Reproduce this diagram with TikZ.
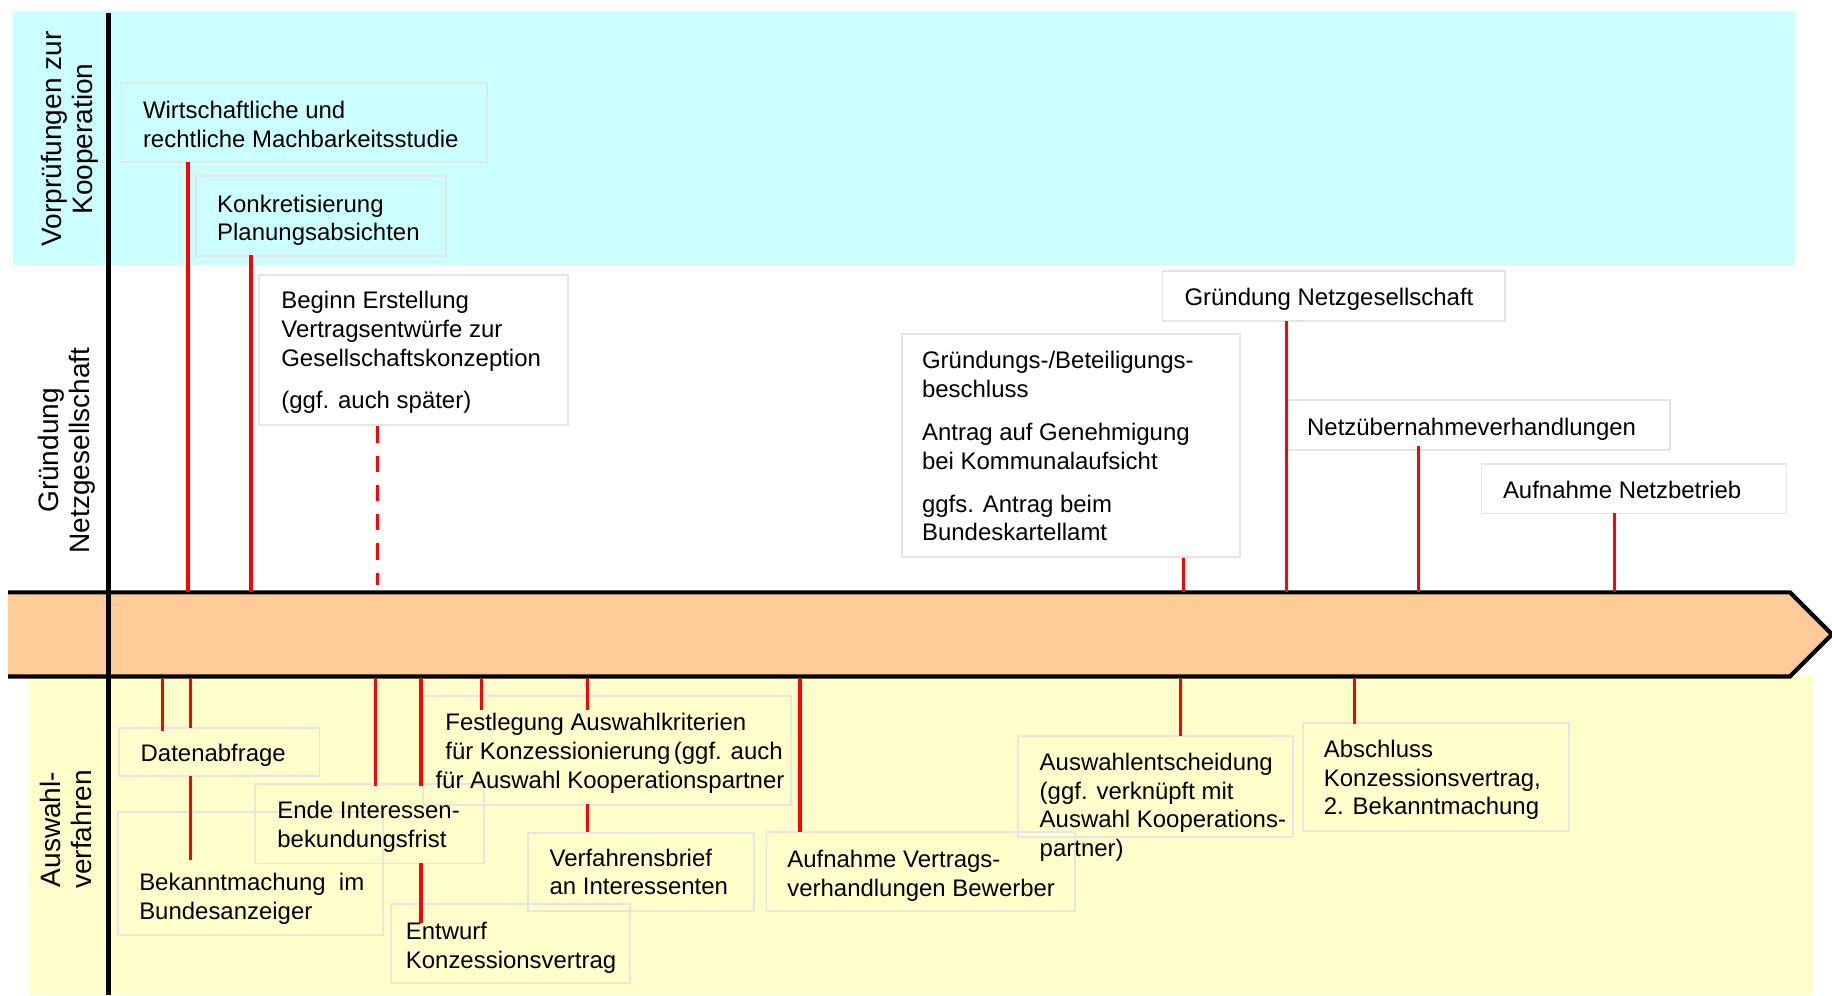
\documentclass[tikz,border=0pt]{standalone}
\usepackage{fontspec}
\setmainfont{Liberation Sans}
\usetikzlibrary{fit}
\definecolor{bandcyan}{HTML}{CCFFFF}
\definecolor{bandyellow}{HTML}{FFFFCC}
\definecolor{timeorange}{HTML}{FFCC99}
\definecolor{boxgray}{HTML}{E6E6E0}
\definecolor{linered}{HTML}{FF0000}
\tikzset{
  bbox/.style={draw=boxgray, line width=0.8pt, inner sep=0pt, fill=none},
  txt/.style={inner sep=0pt, anchor=north west, align=left, font=\fontsize{10.25}{12.25}\selectfont},
  lab/.style={inner sep=0pt, rotate=90, align=center, font=\fontsize{12}{13.5}\selectfont},
  rline/.style={draw=linered, line width=1.5pt},
  rdash/.style={draw=linered, line width=1.5pt, dash pattern=on 7pt off 5.5pt},
}
\begin{document}
\begin{tikzpicture}[x=0.5pt, y=-0.5pt]
\useasboundingbox (0,0) rectangle (1568,852);
% background bands
\fill[bandcyan] (11,9) rectangle (1536,227);
\fill[bandyellow] (25,579) rectangle (1552,852);
% timeline arrow
\fill[timeorange] (7,507) -- (1532,507) -- (1568,543) -- (1532,579) -- (7,579) -- cycle;
\draw[line width=1.8pt, line join=miter] (7,507) -- (1532,507) -- (1568,543) -- (1532,579) -- (7,579);
% vertical axis
\coordinate (axtop) at (93,11);
\coordinate (axbot) at (93,852);
\draw[line width=2.2pt] (axtop) -- (axbot);

% band labels
\node[lab] (l1) at (60.5,119) {\strut Vorprüfungen zur\\\strut Kooperation};
\node[lab] (l2) at (58,385.5) {\strut Gründung\\\strut Netzgesellschaft};
\node[lab] (l3) at (59.5,710) {\strut Auswahl-\\\strut verfahren};

% boxes above timeline
\node[bbox, fit={(104,71) (417,139)}] (b1) {};
\node[bbox, fit={(168,151) (381.5,219)}] (b2) {};
\node[bbox, fit={(222,235) (486.5,364)}] (b3) {};
\node[bbox, fit={(995,232) (1288,275)}] (b4) {};
\node[bbox, fit={(772,286) (1061,476.5)}] (b5) {};
\node[bbox, fit={(1101,342.5) (1429,385)}] (b6) {};
\node[bbox, fit={(1268,397) (1529,439.5)}] (b7) {};

% boxes below timeline
\node[bbox, fit={(102,623) (273.5,664)}] (c1) {};
\node[bbox, fit={(101,695) (328,800)}] (c2) {};
\node[bbox, fit={(218,671) (414.6,739)}] (c3) {};
\node[bbox, fit={(334.5,774) (539,841)}] (c4) {};
\node[bbox, fit={(362,596) (677,689)}] (c5) {};
\node[bbox, fit={(452,713) (645,780)}] (c6) {};
\node[bbox, fit={(656,712) (920,780)}] (c7) {};
\node[bbox, fit={(871,630) (1106.5,716)}] (c8) {};
\node[bbox, fit={(1115,619) (1343,711)}] (c9) {};

% red lines above timeline
\coordinate (r1a) at (161,139);   \coordinate (r1b) at (161,507);
\coordinate (r2a) at (215,218.5); \coordinate (r2b) at (215,507);
\coordinate (r3a) at (323,365);   \coordinate (r3b) at (323,501);
\coordinate (r4a) at (1013,478);  \coordinate (r4b) at (1013,507);
\coordinate (r5a) at (1101,275);  \coordinate (r5b) at (1101,507);
\coordinate (r6a) at (1214,382);  \coordinate (r6b) at (1214,507);
\coordinate (r7a) at (1382,439);  \coordinate (r7b) at (1382,507);
\draw[rline] (r1a) -- (r1b);
\draw[rline] (r2a) -- (r2b);
\draw[rdash] (r3a) -- (r3b);
\draw[rline] (r4a) -- (r4b);
\draw[rline] (r5a) -- (r5b);
\draw[rline] (r6a) -- (r6b);
\draw[rline] (r7a) -- (r7b);

% red lines below timeline
\coordinate (s1a) at (139,581);    \coordinate (s1b) at (139,626);
\coordinate (s2a) at (163,581);    \coordinate (s2b) at (163,623);
\coordinate (s3a) at (163,664);    \coordinate (s3b) at (163,736);
\coordinate (s4a) at (321.5,581);  \coordinate (s4b) at (321.5,673);
\coordinate (s5a) at (360.5,581);  \coordinate (s5b) at (360.5,673);
\coordinate (s6a) at (360.5,739);  \coordinate (s6b) at (360.5,790);
\coordinate (s7a) at (412,581);    \coordinate (s7b) at (412,608);
\coordinate (s8a) at (503,581);    \coordinate (s8b) at (503,608);
\coordinate (s9a) at (503,688);    \coordinate (s9b) at (503,712);
\coordinate (s10a) at (684.5,581); \coordinate (s10b) at (684.5,712);
\coordinate (s11a) at (1010.5,581);\coordinate (s11b) at (1010.5,630);
\coordinate (s12a) at (1159.5,581);\coordinate (s12b) at (1159.5,620);
\foreach \i in {1,...,12} {\draw[rline] (s\i a) -- (s\i b);}

% texts above
\node[txt] (t1) at (122,83.9) {\strut Wirtschaftliche und\\\strut rechtliche Machbarkeitsstudie};
\node[txt] (t2) at (185.5,163.9) {\strut Konkretisierung\\\strut Planungsabsichten};
\node[txt] (t3) at (240.4,246.9) {\strut Beginn Erstellung\\\strut Vertragsentwürfe zur\\\strut Gesellschaftskonzeption\\[5.75pt]\strut (ggf. auch später)};
\node[txt] (t4) at (1013.4,243.9) {\strut Gründung Netzgesellschaft};
\node[txt] (t5) at (788.8,297.9) {\strut Gründungs-/Beteiligungs-\\\strut beschluss\\[6.25pt]\strut Antrag auf Genehmigung\\\strut bei Kommunalaufsicht\\[6.25pt]\strut ggfs. Antrag beim\\\strut Bundeskartellamt};
\node[txt] (t6) at (1118.4,354.9) {\strut Netzübernahmeverhandlungen};
\node[txt] (t7) at (1286,409.4) {\strut Aufnahme Netzbetrieb};

% texts below
\node[txt] (u1) at (120,634.5) {\strut Datenabfrage};
\node[txt] (u2) at (118.8,744.9) {\strut Bekanntmachung\ \ im\\\strut Bundesanzeiger};
\node[txt] (u3) at (237,682.9) {\strut Ende Interessen-\\\strut bekundungsfrist};
\node[txt] (u4) at (347,786.9) {\strut Entwurf\\\strut Konzessionsvertrag};
\node[txt] (u5) at (372.4,607.9) {\strut\hspace*{4.2pt}Festlegung Auswahlkriterien\\\strut\hspace*{4.2pt}für Konzessionierung\hspace{0.15em}(ggf. auch\\\strut für Auswahl Kooperationspartner};
\node[txt] (u6) at (470,723.9) {\strut Verfahrensbrief\\\strut an Interessenten};
\node[txt] (u7) at (673.5,724.9) {\strut Aufnahme Vertrags-\\\strut verhandlungen Bewerber};
\node[txt] (u8) at (889.5,641.9) {\strut Auswahlentscheidung\\\strut (ggf. verknüpft mit\\\strut Auswahl Kooperations-\\\strut partner)};
\node[txt] (u9) at (1132.7,630.9) {\strut Abschluss\\\strut Konzessionsvertrag,\\\strut 2. Bekanntmachung};
\end{tikzpicture}
\end{document}
